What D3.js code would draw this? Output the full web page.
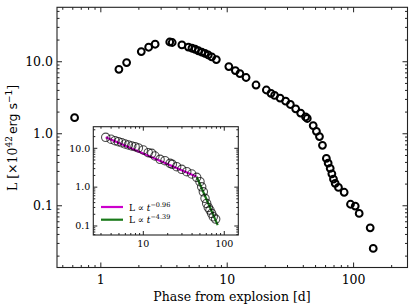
<!DOCTYPE html>
<html>
<head>
<meta charset="utf-8">
<script src="https://cdn.jsdelivr.net/npm/d3@7"></script>
<style>
  body { margin: 0; background: #fff; }
  svg { display: block; }
  text { font-family: "DejaVu Serif", serif; fill: #000; }
</style>
</head>
<body>
<svg id="chart" width="415" height="308"></svg>
<script>
// main light curve: phase from explosion [d] and luminosity [1e42 erg/s]
const phase = [0.62, 1.39, 1.6, 2.09, 2.39, 2.69, 3.51, 3.67, 4.38, 4.93, 5.26, 5.59, 5.92, 6.29, 6.67, 7.08, 7.54, 8.2,
  10.3, 11.6, 12.6, 14.1, 16.9, 20.4, 22.2, 23.7, 26.2, 29.0, 31.6, 34.8, 38.1, 41.7, 43.0, 47.9, 50.8, 53.7, 56.7,
  60.9, 62.9, 65.3, 67.3, 69.3, 71.5, 75.9, 84.2, 94.5, 103, 110.7, 135.3, 143];
const lum = [1.67, 7.84, 9.74, 13.85, 15.9, 17.5, 18.8, 18.5, 17.1, 16.0, 15.4, 14.9, 14.2, 13.6, 13.1, 12.4, 11.7, 10.7,
  8.58, 7.55, 6.86, 6.04, 4.75, 4.05, 3.64, 3.41, 3.13, 2.83, 2.55, 2.22, 1.94, 1.71, 1.63, 1.30, 1.08, 0.914, 0.69,
  0.455, 0.392, 0.331, 0.278, 0.235, 0.205, 0.180, 0.154, 0.105, 0.099, 0.0784, 0.0494, 0.0256];

// inset: decline after peak with power-law fits
const insetPhase = [3.43, 3.99, 4.47, 4.91, 5.41, 5.94, 6.53, 7.19, 7.91, 8.68, 10.0, 11.5, 12.7, 13.9, 16.1, 18.5,
  21.4, 22.8, 25.8, 29.8, 34.4, 39.6, 45.6, 50.1, 52.6, 55.1, 57.8, 60.6, 63.4, 66.5, 69.8, 73.1, 78.3];
const insetLum = [19.2, 17.1, 15.7, 14.8, 13.9, 12.9, 12.2, 11.5, 11.0, 10.2, 9.04, 7.71, 7.43, 6.34, 5.2, 4.79,
  4.1, 3.87, 3.36, 2.88, 2.5, 2.18, 1.79, 1.38, 1.02, 0.76, 0.514, 0.382, 0.301, 0.257, 0.211, 0.173, 0.151];
const fitNames = ["−0.96", "−4.39"];
const fitColors = ["#cc00cc", "#1a7a1a"];
const fitLines = [
  [[3.43, 19.2], [45.6, 1.85]],
  [[45.6, 1.85], [82.9, 0.105]]
];

const xTicks = [1, 10, 100];
const yTicks = [0.1, 1, 10];
const insetXTicks = [10, 100];
const insetYTicks = [0.1, 1, 10];

const svg = d3.select("#chart");

// log-scale minor ticks for a domain
const minorTicks = (domain) => {
  const out = [];
  const lo = Math.floor(Math.log10(domain[0]));
  const hi = Math.ceil(Math.log10(domain[1]));
  for (let e = lo; e <= hi; e++) {
    for (let k = 2; k <= 9; k++) {
      const v = k * Math.pow(10, e);
      if (v >= domain[0] && v <= domain[1]) out.push(v);
    }
  }
  return out;
};

// draws a framed log-log box with inward ticks on all four sides
const drawFrame = (g, x, y, opts) => {
  const [x0, x1] = x.range();
  const [y0, y1] = y.range();

  const tickG = g.append("g").attr("stroke", "#222").attr("stroke-width", 1);
  const xm = opts.xTicks, ym = opts.yTicks;
  const xn = minorTicks(x.domain()), yn = minorTicks(y.domain());

  [[xm, opts.major], [xn, opts.minor]].forEach(([vals, len]) => {
    tickG.selectAll(null).data(vals).join("line")
      .attr("x1", (d) => x(d)).attr("x2", (d) => x(d))
      .attr("y1", y0).attr("y2", y0 - len);
    tickG.selectAll(null).data(vals).join("line")
      .attr("x1", (d) => x(d)).attr("x2", (d) => x(d))
      .attr("y1", y1).attr("y2", y1 + len);
  });
  [[ym, opts.major], [yn, opts.minor]].forEach(([vals, len]) => {
    tickG.selectAll(null).data(vals).join("line")
      .attr("y1", (d) => y(d)).attr("y2", (d) => y(d))
      .attr("x1", x0).attr("x2", x0 + len);
    tickG.selectAll(null).data(vals).join("line")
      .attr("y1", (d) => y(d)).attr("y2", (d) => y(d))
      .attr("x1", x1).attr("x2", x1 - len);
  });

  g.append("rect")
    .attr("x", x0).attr("y", y1)
    .attr("width", x1 - x0).attr("height", y0 - y1)
    .attr("fill", "none").attr("stroke", "#222").attr("stroke-width", 1.1);

  g.append("g").selectAll("text").data(xm).join("text")
    .attr("x", (d) => x(d)).attr("y", y0 + opts.xLabelOffset)
    .attr("text-anchor", "middle")
    .attr("font-size", opts.fontSize)
    .text((d) => d3.format("d")(d));
  g.append("g").selectAll("text").data(ym).join("text")
    .attr("x", x0 - opts.yLabelOffset).attr("y", (d) => y(d))
    .attr("dy", "0.35em")
    .attr("text-anchor", "end")
    .attr("font-size", opts.fontSize)
    .text((d) => d3.format(".1f")(d));
};

// ---- main axes ----
const x = d3.scaleLog().domain([0.45, 267]).range([57, 407.5]);
const y = d3.scaleLog().domain([0.0139, 57]).range([267.5, 7.3]);

const main = svg.append("g");
drawFrame(main, x, y, {
  xTicks, yTicks, major: 5, minor: 2.5, fontSize: 12.5, xLabelOffset: 16, yLabelOffset: 4
});

main.append("g").selectAll("circle")
  .data(d3.zip(phase, lum))
  .join("circle")
  .attr("cx", (d) => x(d[0]))
  .attr("cy", (d) => y(d[1]))
  .attr("r", 3.4)
  .attr("fill", "none")
  .attr("stroke", "#000")
  .attr("stroke-width", 2);

main.append("text")
  .attr("x", 232).attr("y", 301)
  .attr("text-anchor", "middle")
  .attr("font-size", 12.5)
  .text("Phase from explosion [d]");

const ylab = main.append("text")
  .attr("transform", "translate(17,138) rotate(-90)")
  .attr("text-anchor", "middle")
  .attr("font-size", 12.5);
ylab.append("tspan").text("L [×10");
ylab.append("tspan").attr("font-size", 9).attr("dy", -5).text("42");
ylab.append("tspan").attr("dy", 5).attr("dx", 2).attr("font-family", "DejaVu Sans").text("erg s");
ylab.append("tspan").attr("font-size", 9).attr("dy", -5).attr("font-family", "DejaVu Sans").text("−1");
ylab.append("tspan").attr("dy", 5).text("]");

// ---- inset ----
const ix = d3.scaleLog().domain([2.41, 149]).range([93.3, 238.3]);
const iy = d3.scaleLog().domain([0.0586, 36]).range([235, 126.7]);

const inset = svg.append("g");
inset.append("rect")
  .attr("x", 93.3).attr("y", 126.7)
  .attr("width", 145).attr("height", 108.3)
  .attr("fill", "#fff");

inset.append("g").selectAll("path")
  .data(fitLines)
  .join("path")
  .attr("d", d3.line().x((d) => ix(d[0])).y((d) => iy(d[1])))
  .attr("fill", "none")
  .attr("stroke", (d, i) => fitColors[i])
  .attr("stroke-width", 2.2);

inset.append("g").selectAll("circle")
  .data(d3.zip(insetPhase, insetLum))
  .join("circle")
  .attr("cx", (d) => ix(d[0]))
  .attr("cy", (d) => iy(d[1]))
  .attr("r", 4.2)
  .attr("fill", "none")
  .attr("stroke", "#000")
  .attr("stroke-opacity", 0.7)
  .attr("stroke-width", 1.1);

drawFrame(inset, ix, iy, {
  xTicks: insetXTicks, yTicks: insetYTicks, major: 4, minor: 2, fontSize: 9.5, xLabelOffset: 12, yLabelOffset: 3
});

const legend = inset.append("g").attr("transform", "translate(101,207)");
fitNames.forEach((name, i) => {
  const row = legend.append("g").attr("transform", `translate(0,${i * 12.7})`);
  row.append("line")
    .attr("x1", 0).attr("x2", 22)
    .attr("stroke", fitColors[i]).attr("stroke-width", 2.2);
  const t = row.append("text")
    .attr("x", 28).attr("y", 3.5)
    .attr("font-size", 9);
  t.append("tspan").text("L ∝ ");
  t.append("tspan").attr("font-style", "italic").text("t");
  t.append("tspan").attr("font-size", 6.5).attr("dy", -4).text(name);
});
</script>
</body>
</html>
